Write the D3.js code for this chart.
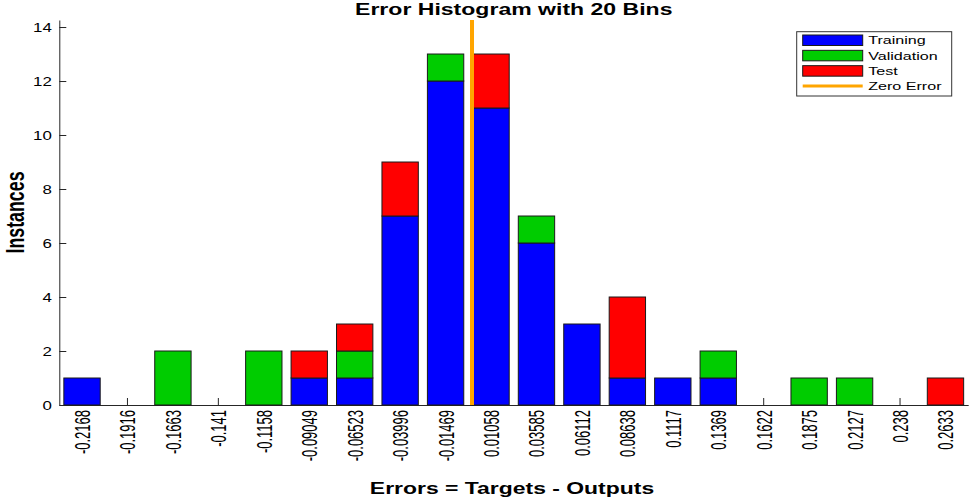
<!DOCTYPE html>
<html>
<head>
<meta charset="utf-8">
<script src="https://cdn.jsdelivr.net/npm/d3@7"></script>
<style>
  body { margin: 0; background: #fff; }
  text { font-family: "Liberation Sans", Arial, sans-serif; }
</style>
</head>
<body>
<svg id="hist_chart"></svg>
<script>
// bin centres (tick labels) and counts per data split
const bins = ["-0.2168", "-0.1916", "-0.1663", "-0.141", "-0.1158", "-0.09049", "-0.06523",
              "-0.03996", "-0.01469", "0.01058", "0.03585", "0.06112", "0.08638", "0.1117",
              "0.1369", "0.1622", "0.1875", "0.2127", "0.238", "0.2633"];
const training   = [1, 0, 0, 0, 0, 1, 1, 7, 12, 11, 6, 3, 1, 1, 1, 0, 0, 0, 0, 0];
const validation = [0, 0, 2, 0, 2, 0, 1, 0, 1, 0, 1, 0, 0, 0, 1, 0, 1, 1, 0, 0];
const test       = [0, 0, 0, 0, 0, 1, 1, 2, 0, 2, 0, 0, 3, 0, 0, 0, 0, 0, 0, 1];
const series = ["Training", "Validation", "Test"];
const yTicks = [0, 2, 4, 6, 8, 10, 12, 14];
const zeroError = 0;

const colors = {Training: "#0000ff", Validation: "#00cc00", Test: "#ff0000"};
const width = 969, height = 500;
const margin = {top: 20, right: 0.8, bottom: 95, left: 59.3};
const axisColor = "#262626";

const svg = d3.select("#hist_chart")
              .attr("width", width)
              .attr("height", height);

// table for the stack
const table = bins.map((b, i) => ({bin: b, Training: training[i], Validation: validation[i], Test: test[i]}));

const x = d3.scaleBand()
            .domain(bins)
            .range([margin.left, width - margin.right])
            .paddingInner(0.2)
            .paddingOuter(0.1);

const y = d3.scaleLinear()
            .domain([0, 14.26])
            .range([height - margin.bottom, margin.top]);

// x position of the zero error line, between the two bin centres around 0
const binValues = bins.map(Number);
const zi = binValues.findIndex(v => v > zeroError);
const zeroX = d3.scaleLinear()
                .domain([binValues[zi - 1], binValues[zi]])
                .range([x(bins[zi - 1]) + x.bandwidth()/2, x(bins[zi]) + x.bandwidth()/2])(zeroError);

// AXES
const xAxis = svg.append("g")
                 .attr("transform", "translate(0," + y(0) + ")")
                 .call(d3.axisBottom(x).tickSize(-7).tickSizeOuter(0));
xAxis.selectAll("path, line").attr("stroke", axisColor);
xAxis.selectAll("text")
     .attr("y", null).attr("dy", null).attr("x", null)
     .attr("text-anchor", "end")
     .attr("font-size", 13)
     .attr("fill", "#000")
     .attr("transform", "translate(8,5) rotate(-90) scale(1,1.65)");

const yAxis = svg.append("g")
                 .attr("transform", "translate(" + margin.left + ",0)")
                 .call(d3.axisLeft(y).tickValues(yTicks).tickSize(-7).tickSizeOuter(0));
yAxis.selectAll("path, line").attr("stroke", axisColor);
yAxis.selectAll("text")
     .attr("x", null).attr("dy", null)
     .attr("text-anchor", "end")
     .attr("font-size", 12.5)
     .attr("fill", "#000")
     .attr("transform", "translate(-7.5,4.5) scale(1.35,1)");

// BARS
const stacked = d3.stack().keys(series)(table);

svg.append("g")
   .selectAll("g")
   .data(stacked)
   .enter()
   .append("g")
   .attr("fill", d => colors[d.key])
   .selectAll("rect")
   .data(d => d.filter(s => s[1] > s[0]))
   .enter()
   .append("rect")
   .attr("x", d => x(d.data.bin))
   .attr("y", d => y(d[1]))
   .attr("width", x.bandwidth())
   .attr("height", d => y(d[0]) - y(d[1]))
   .attr("stroke", "#1a1a1a")
   .attr("stroke-width", 1);

// zero error line
svg.append("line")
   .attr("x1", zeroX)
   .attr("x2", zeroX)
   .attr("y1", y(0))
   .attr("y2", y.range()[1])
   .attr("stroke", "#ffa500")
   .attr("stroke-width", 4);

// TITLES
svg.append("text")
   .attr("transform", "translate(" + (margin.left + width - margin.right)/2 + ",14.5) scale(1.44,1)")
   .attr("text-anchor", "middle")
   .attr("font-weight", "bold")
   .attr("font-size", 16)
   .text("Error Histogram with 20 Bins");

svg.append("text")
   .attr("transform", "translate(512,494) scale(1.39,1)")
   .attr("text-anchor", "middle")
   .attr("font-weight", "bold")
   .attr("font-size", 16.5)
   .text("Errors = Targets - Outputs");

svg.append("text")
   .attr("transform", "translate(23.5," + (y(0) + y.range()[1])/2 + ") rotate(-90) scale(1,1.45)")
   .attr("text-anchor", "middle")
   .attr("font-weight", "bold")
   .attr("font-size", 17.8)
   .text("Instances");

// LEGEND
const legend = svg.append("g")
                  .attr("transform", "translate(796.7,31.7)");

legend.append("rect")
      .attr("width", 155)
      .attr("height", 64.3)
      .attr("fill", "#fff")
      .attr("stroke", "#333")
      .attr("stroke-width", 1);

const legendItems = series.concat(["Zero Error"]);
const rowY = d3.scalePoint().domain(legendItems).range([8.3, 54.3]);

legend.selectAll("rect.swatch")
      .data(series)
      .enter()
      .append("rect")
      .attr("class", "swatch")
      .attr("x", 6)
      .attr("y", d => rowY(d) - 5)
      .attr("width", 60)
      .attr("height", 10.5)
      .attr("fill", d => colors[d])
      .attr("stroke", "#1a1a1a");

legend.append("line")
      .attr("x1", 6)
      .attr("x2", 66)
      .attr("y1", rowY("Zero Error"))
      .attr("y2", rowY("Zero Error"))
      .attr("stroke", "#ffa500")
      .attr("stroke-width", 3);

legend.selectAll("text")
      .data(legendItems)
      .enter()
      .append("text")
      .attr("transform", d => "translate(71.5," + (rowY(d) + 4.3) + ") scale(1.4,1)")
      .attr("font-size", 11.5)
      .text(d => d);
</script>
</body>
</html>
